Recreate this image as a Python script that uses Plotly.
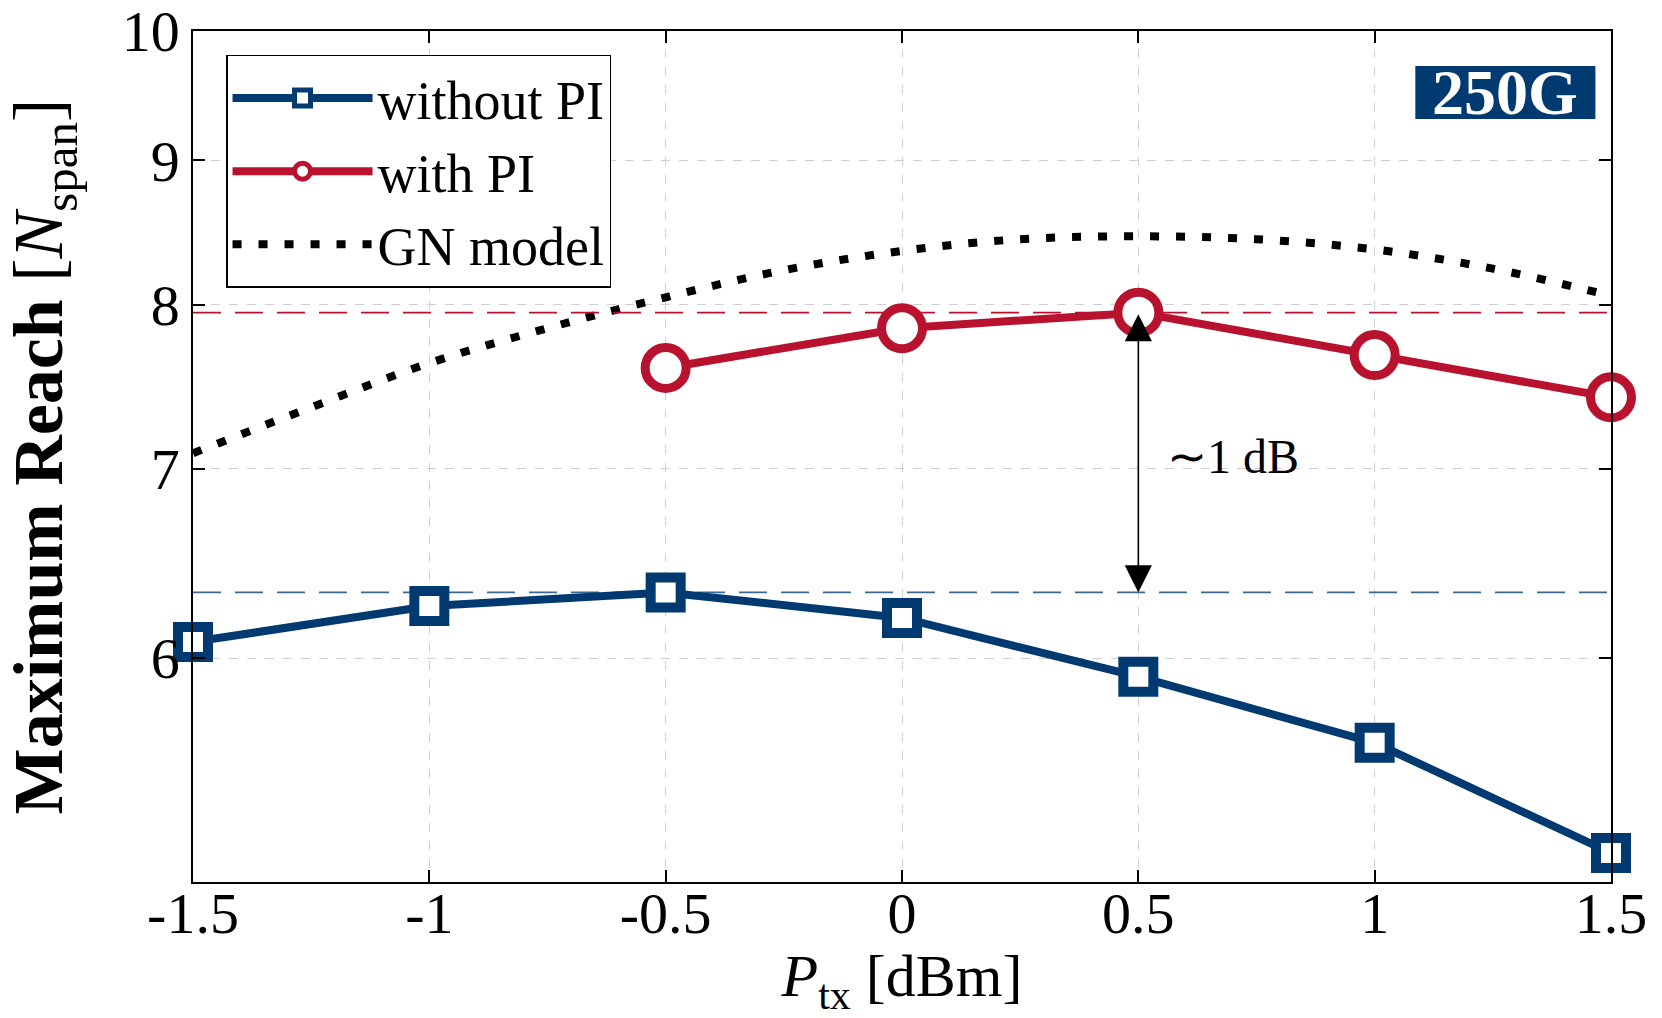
import numpy as np
import plotly.graph_objects as go

# ---- data ----
ptx = [-1.5, -1.0, -0.5, 0.0, 0.5, 1.0, 1.5]
reach_without_pi = [6.08, 6.26, 6.33, 6.20, 5.91, 5.60, 5.12]

ptx_with = [-0.5, 0.0, 0.5, 1.0, 1.5]
reach_with_pi = [7.60, 7.85, 7.95, 7.68, 7.42]

ptx_gn = [-1.5, -1.25, -1.0, -0.75, -0.5, -0.25, 0.0, 0.25, 0.5, 0.75, 1.0, 1.25, 1.5]
reach_gn = [7.09, 7.36, 7.63, 7.85, 8.05, 8.23, 8.36, 8.44, 8.46, 8.44, 8.37, 8.24, 8.06]

x_ticks = [-1.5, -1.0, -0.5, 0.0, 0.5, 1.0, 1.5]
x_ticktext = ["-1.5", "-1", "-0.5", "0", "0.5", "1", "1.5"]
y_ticks = [6, 7, 8, 9, 10]
y_ticktext = ["6", "7", "8", "9", "10"]

best_with = max(reach_with_pi)
best_without = max(reach_without_pi)
arrow_x = ptx_with[reach_with_pi.index(best_with)]

BLUE = "#003a70"
RED = "#b8122e"
FONT = "Liberation Serif"

fig = go.Figure()

fig.add_trace(go.Scatter(
    x=ptx_gn, y=reach_gn, mode="lines", name="GN model",
    line=dict(color="black", width=8, dash="9px,17px", shape="spline", smoothing=1.0),
    legendrank=3, cliponaxis=False,
))
fig.add_trace(go.Scatter(
    x=[x_ticks[0], x_ticks[-1]], y=[best_with, best_with], mode="lines",
    line=dict(color=RED, width=1.8, dash="28px,14px"), showlegend=False, hoverinfo="skip",
))
fig.add_trace(go.Scatter(
    x=[x_ticks[0], x_ticks[-1]], y=[best_without, best_without], mode="lines",
    line=dict(color="#3a6a94", width=1.8, dash="28px,14px"), showlegend=False, hoverinfo="skip",
))
fig.add_trace(go.Scatter(
    x=ptx, y=reach_without_pi, mode="lines+markers", name="without PI",
    line=dict(color=BLUE, width=8),
    marker=dict(symbol="square", size=30, color="white", line=dict(color=BLUE, width=10)),
    legendrank=1, cliponaxis=False,
))
fig.add_trace(go.Scatter(
    x=ptx_with, y=reach_with_pi, mode="lines+markers", name="with PI",
    line=dict(color=RED, width=8),
    marker=dict(symbol="circle", size=41, color="white", line=dict(color=RED, width=9)),
    legendrank=2, cliponaxis=False,
))

fig.add_annotation(
    x=arrow_x, y=np.log10(best_without), ax=arrow_x, ay=np.log10(best_with),
    xref="x", yref="y", axref="x", ayref="y",
    showarrow=True, arrowside="end+start", arrowhead=2, arrowsize=3.4,
    arrowwidth=1.6, arrowcolor="black", text="", standoff=0, startstandoff=0,
)
fig.add_annotation(
    x=0.556, y=np.log10(7.07), xref="x", yref="y", text="∼1 dB", showarrow=False,
    xanchor="left", yanchor="middle", font=dict(family=FONT, size=48, color="black"),
)

# 250G label box
fig.add_shape(type="rect", xref="paper", yref="paper",
              x0=0.862, x1=0.989, y0=0.8966, y1=0.959,
              fillcolor=BLUE, line=dict(width=0), layer="above")
fig.add_annotation(
    x=0.9255, y=0.928, xref="paper", yref="paper", text="<b>250G</b>", showarrow=False,
    xanchor="center", yanchor="middle", font=dict(family=FONT, size=64, color="white"),
)

axis_common = dict(
    showline=True, linecolor="black", linewidth=1.5, mirror="ticks",
    ticks="inside", ticklen=12, tickwidth=1.5, tickcolor="black",
    showgrid=True, gridcolor="#cfcfcf", gridwidth=1, griddash="dash",
    zeroline=False, tickfont=dict(family=FONT, size=58, color="black"),
    automargin=False, ticklabeloverflow="allow",
)

fig.update_layout(
    width=1662, height=1018,
    margin=dict(l=193, r=51, t=31, b=136),
    paper_bgcolor="white", plot_bgcolor="white",
    font=dict(family=FONT, color="black"),
    xaxis=dict(
        range=[-1.5, 1.5], tickvals=x_ticks, ticktext=x_ticktext,
        ticklabelstandoff=-20,
        title=dict(text="<i>P</i><sub>tx</sub> [dBm]", font=dict(family=FONT, size=60), standoff=38),
        **axis_common,
    ),
    yaxis=dict(
        type="log", range=[np.log10(5), 1], tickvals=y_ticks, ticktext=y_ticktext,
        title=dict(text="<b>Maximum Reach</b> [<i>N</i><sub>span</sub>]", font=dict(family=FONT, size=70), standoff=53),
        **axis_common,
    ),
    legend=dict(
        x=0.0233, y=0.972, xanchor="left", yanchor="top",
        bgcolor="white", bordercolor="black", borderwidth=1.5,
        font=dict(family=FONT, size=54, color="black"),
        itemwidth=140, tracegroupgap=0,
    ),
    showlegend=True,
)

fig.write_html("out.html")
